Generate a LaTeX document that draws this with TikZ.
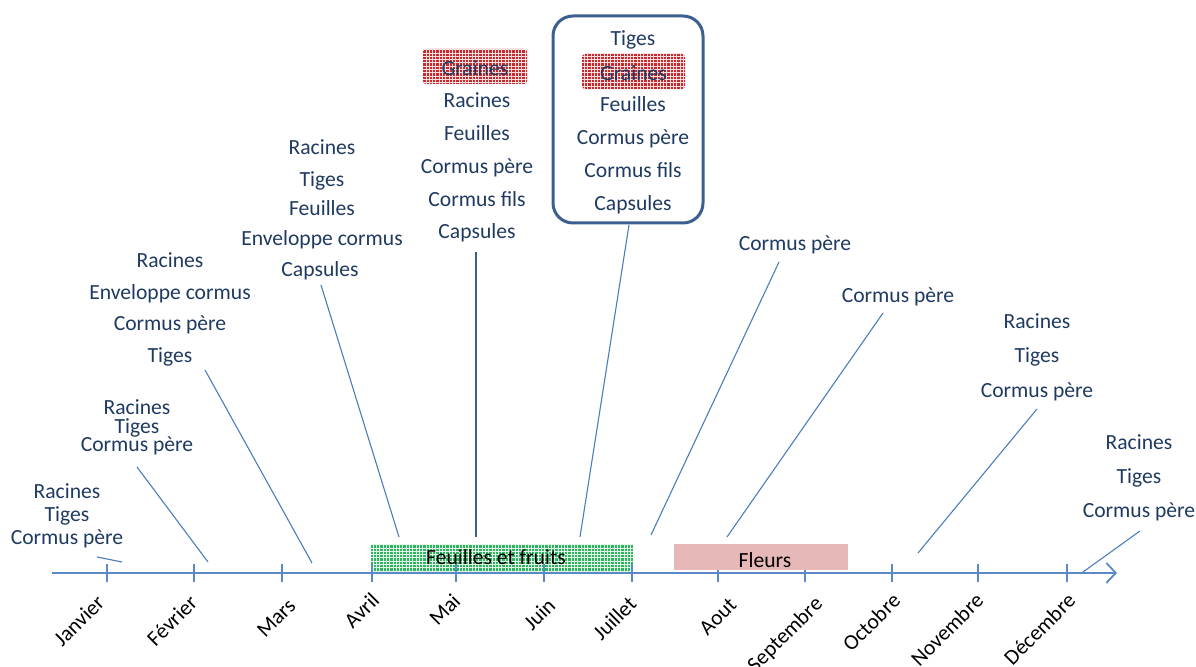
\documentclass[tikz,border=0pt]{standalone}
\usepackage{fontspec}
\setmainfont{Carlito}
\usetikzlibrary{arrows.meta}
\definecolor{txt}{HTML}{1F3A60}
\definecolor{axisc}{HTML}{5A8AC6}
\definecolor{connc}{HTML}{4A7EBB}
\definecolor{boxc}{HTML}{3B5F8E}
\definecolor{redg}{HTML}{C9282C}
\definecolor{greeng}{HTML}{2EB35F}
\definecolor{pinkb}{HTML}{E6B8B7}
\newcommand{\fsz}{\fontsize{10.8}{12.9}\selectfont}
\begin{document}
\begin{tikzpicture}[x=0.5pt,y=-0.5pt,
  lbl/.style={text=txt,font=\fsz,inner sep=0pt,anchor=base},
  mon/.style={text=black,font=\fsz,inner sep=0pt,rotate=45,anchor=base east},
  conn/.style={draw=connc,line width=0.55pt},
  axisline/.style={draw=axisc,line width=0.9pt},
  tickline/.style={draw=axisc,line width=0.55pt},
  grainbox/.style={inner sep=0pt,fill=redg,rounded corners=1.5pt,
    minimum width=52pt,minimum height=17.5pt},
  gridlines/.style={line width=0.2pt,step=1.65pt},
  barbox/.style={inner sep=0pt,minimum height=13.5pt}]
\path[use as bounding box,clip] (0,0) rectangle (1196,667);

% green bar with fine white grid
\node[barbox,fill=greeng,minimum width=131pt] (green) at (502,557.5) {};
\begin{scope}
  \clip (green.south west) rectangle (green.north east);
  \draw[gridlines,draw=white!85!greeng] (green.south west) grid (green.north east);
\end{scope}
\node[text=black,font=\fsz,inner sep=0pt,anchor=base] (greent) at (496,565) {Feuilles et fruits};

% axis and ticks
\draw[axisline,-{Straight Barb[length=4.7pt,width=10pt]}] (52,573) -- (1117,573) coordinate (axend);
\foreach \t/\n in {107/t1,194/t2,282/t3,372/t4,456/t5,544/t6,632/t7,718/t8,805/t9,892/t10,978/t11,1067/t12}
  \draw[tickline] (\t,564) coordinate (\n a) -- (\t,582) coordinate (\n b);

\node[barbox,fill=pinkb,minimum width=87pt,minimum height=13pt] (pink) at (761,557) {};
\node[text=black,font=\fsz,inner sep=0pt,anchor=base] (pinkt) at (765,567.5) {Fleurs};

% month labels
\node[mon] (m1) at (106,604) {Janvier};
\node[mon] (m2) at (199,604) {Février};
\node[mon] (m3) at (297,607) {Mars};
\node[mon] (m4) at (381,601.5) {Avril};
\node[mon] (m5) at (462,602.5) {Mai};
\node[mon] (m6) at (557,607) {Juin};
\node[mon] (m7) at (638,605.5) {Juillet};
\node[mon] (m8) at (738,606.5) {Aout};
\node[mon] (m9) at (824,605) {Septembre};
\node[mon] (m10) at (902,602) {Octobre};
\node[mon] (m11) at (985,602) {Novembre};
\node[mon] (m12) at (1077,602) {Décembre};

% Graines boxes with fine white grid
\node[grainbox] (gr1) at (475,66.5) {};
\node[grainbox,minimum width=51.5pt] (gr2) at (633.5,71.5) {};
\foreach \g in {gr1,gr2}{
  \begin{scope}
    \clip[rounded corners=1.5pt] (\g.south west) rectangle (\g.north east);
    \draw[gridlines,draw=white!85!redg] (\g.south west) grid (\g.north east);
  \end{scope}
}
\node[lbl] (gr1t) at (475,76) {Graines};
\node[lbl] (gr2t) at (633.5,81) {Graines};

% text columns (baselines)
\foreach \x/\y/\t/\n in {
  67/499/Racines/ja1, 67/522/Tiges/ja2, 67/545/Cormus père/ja3,
  137/415/Racines/fe1, 137/434/Tiges/fe2, 137/452/Cormus père/fe3,
  170/268/Racines/ma1, 170/300/Enveloppe cormus/ma2, 170/331/Cormus père/ma3, 170/363/Tiges/ma4,
  322/155/Racines/av1, 322/187/Tiges/av2, 322/216/Feuilles/av3, 322/246/Enveloppe cormus/av4, 320/277/Capsules/av5,
  477/108/Racines/mi1, 477/141/Feuilles/mi2, 477/174/Cormus père/mi3, 477/207/Cormus fils/mi4, 477/239/Capsules/mi5,
  633/46/Tiges/ju1, 633/112/Feuilles/ju2, 633/145/Cormus père/ju3, 633/178/Cormus fils/ju4, 633/211/Capsules/ju5,
  795/251/Cormus père/ao1,
  898/303/Cormus père/se1,
  1037/329/Racines/oc1, 1037/363/Tiges/oc2, 1037/398/Cormus père/oc3,
  1139/450/Racines/de1, 1139/484/Tiges/de2, 1139/518/Cormus père/de3}
  \node[lbl] (\n) at (\x,\y) {\t};

% July rounded frame
\node[draw=boxc,line width=1.5pt,rounded corners=10pt,minimum width=75pt,minimum height=103.5pt,inner sep=0pt] (julbox) at (628,119.5) {};

% connectors
\coordinate (cja) at (97,557);   \coordinate (eja) at (122,562);
\coordinate (cfe) at (137,467);  \coordinate (efe) at (208,562);
\coordinate (cma) at (205,370);  \coordinate (ema) at (312,563);
\coordinate (cav) at (321,285);  \coordinate (eav) at (399,537);
\coordinate (cmi) at (476,252);  \coordinate (emi) at (476,537);
\coordinate (cju) at (629,225);  \coordinate (eju) at (580,537);
\coordinate (cao) at (779,262);  \coordinate (eao) at (651,535);
\coordinate (cse) at (883,313);  \coordinate (ese) at (727,537);
\coordinate (coc) at (1037,409); \coordinate (eoc) at (918,553);
\coordinate (cde) at (1140,531); \coordinate (ede) at (1083,572);
\foreach \a/\b in {cja/eja,cfe/efe,cma/ema,cav/eav,cju/eju,cao/eao,cse/ese,coc/eoc,cde/ede}
  \draw[conn] (\a) -- (\b);
\draw[conn,line width=0.8pt,draw=boxc] (cmi) -- (emi);
\end{tikzpicture}
\end{document}
